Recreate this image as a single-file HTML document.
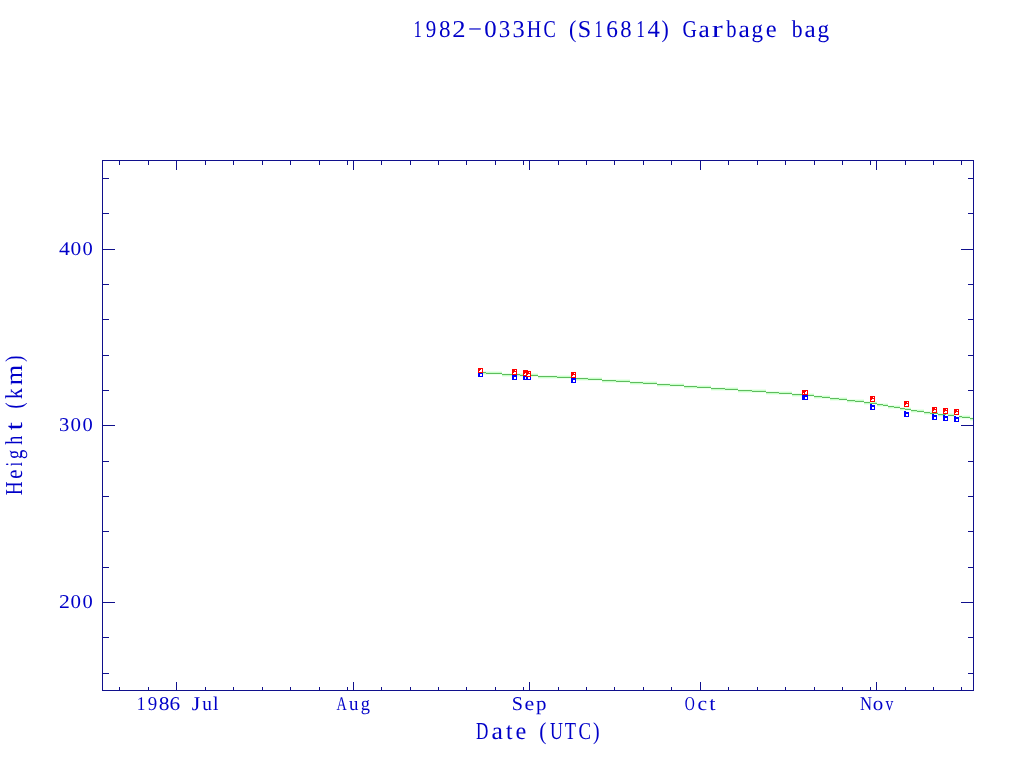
<!DOCTYPE html>
<html><head><meta charset="utf-8"><style>
html,body{margin:0;padding:0;background:#fff;width:1024px;height:768px;overflow:hidden}
svg{display:block}
svg{will-change:transform}
text{font-family:"Liberation Serif",serif;text-rendering:geometricPrecision}
</style></head><body>
<svg width="1024" height="768" viewBox="0 0 1024 768">
<rect width="1024" height="768" fill="#fff"/>
<g shape-rendering="crispEdges">
<rect x="102" y="160" width="872" height="1" fill="#10108c"/>
<rect x="102" y="690" width="872" height="1" fill="#10108c"/>
<rect x="102" y="160" width="1" height="531" fill="#10108c"/>
<rect x="973" y="160" width="1" height="531" fill="#10108c"/>
<rect x="176" y="682" width="1" height="8" fill="#10108c"/>
<rect x="176" y="161" width="1" height="9" fill="#10108c"/>
<rect x="353" y="682" width="1" height="8" fill="#10108c"/>
<rect x="353" y="161" width="1" height="9" fill="#10108c"/>
<rect x="529" y="682" width="1" height="8" fill="#10108c"/>
<rect x="529" y="161" width="1" height="9" fill="#10108c"/>
<rect x="700" y="682" width="1" height="8" fill="#10108c"/>
<rect x="700" y="161" width="1" height="9" fill="#10108c"/>
<rect x="876" y="682" width="1" height="8" fill="#10108c"/>
<rect x="876" y="161" width="1" height="9" fill="#10108c"/>
<rect x="119" y="687" width="1" height="3" fill="#10108c"/>
<rect x="119" y="161" width="1" height="4" fill="#10108c"/>
<rect x="148" y="687" width="1" height="3" fill="#10108c"/>
<rect x="148" y="161" width="1" height="4" fill="#10108c"/>
<rect x="205" y="687" width="1" height="3" fill="#10108c"/>
<rect x="205" y="161" width="1" height="4" fill="#10108c"/>
<rect x="233" y="687" width="1" height="3" fill="#10108c"/>
<rect x="233" y="161" width="1" height="4" fill="#10108c"/>
<rect x="262" y="687" width="1" height="3" fill="#10108c"/>
<rect x="262" y="161" width="1" height="4" fill="#10108c"/>
<rect x="290" y="687" width="1" height="3" fill="#10108c"/>
<rect x="290" y="161" width="1" height="4" fill="#10108c"/>
<rect x="319" y="687" width="1" height="3" fill="#10108c"/>
<rect x="319" y="161" width="1" height="4" fill="#10108c"/>
<rect x="347" y="687" width="1" height="3" fill="#10108c"/>
<rect x="347" y="161" width="1" height="4" fill="#10108c"/>
<rect x="381" y="687" width="1" height="3" fill="#10108c"/>
<rect x="381" y="161" width="1" height="4" fill="#10108c"/>
<rect x="410" y="687" width="1" height="3" fill="#10108c"/>
<rect x="410" y="161" width="1" height="4" fill="#10108c"/>
<rect x="438" y="687" width="1" height="3" fill="#10108c"/>
<rect x="438" y="161" width="1" height="4" fill="#10108c"/>
<rect x="466" y="687" width="1" height="3" fill="#10108c"/>
<rect x="466" y="161" width="1" height="4" fill="#10108c"/>
<rect x="495" y="687" width="1" height="3" fill="#10108c"/>
<rect x="495" y="161" width="1" height="4" fill="#10108c"/>
<rect x="523" y="687" width="1" height="3" fill="#10108c"/>
<rect x="523" y="161" width="1" height="4" fill="#10108c"/>
<rect x="558" y="687" width="1" height="3" fill="#10108c"/>
<rect x="558" y="161" width="1" height="4" fill="#10108c"/>
<rect x="586" y="687" width="1" height="3" fill="#10108c"/>
<rect x="586" y="161" width="1" height="4" fill="#10108c"/>
<rect x="614" y="687" width="1" height="3" fill="#10108c"/>
<rect x="614" y="161" width="1" height="4" fill="#10108c"/>
<rect x="643" y="687" width="1" height="3" fill="#10108c"/>
<rect x="643" y="161" width="1" height="4" fill="#10108c"/>
<rect x="671" y="687" width="1" height="3" fill="#10108c"/>
<rect x="671" y="161" width="1" height="4" fill="#10108c"/>
<rect x="728" y="687" width="1" height="3" fill="#10108c"/>
<rect x="728" y="161" width="1" height="4" fill="#10108c"/>
<rect x="757" y="687" width="1" height="3" fill="#10108c"/>
<rect x="757" y="161" width="1" height="4" fill="#10108c"/>
<rect x="785" y="687" width="1" height="3" fill="#10108c"/>
<rect x="785" y="161" width="1" height="4" fill="#10108c"/>
<rect x="814" y="687" width="1" height="3" fill="#10108c"/>
<rect x="814" y="161" width="1" height="4" fill="#10108c"/>
<rect x="842" y="687" width="1" height="3" fill="#10108c"/>
<rect x="842" y="161" width="1" height="4" fill="#10108c"/>
<rect x="870" y="687" width="1" height="3" fill="#10108c"/>
<rect x="870" y="161" width="1" height="4" fill="#10108c"/>
<rect x="905" y="687" width="1" height="3" fill="#10108c"/>
<rect x="905" y="161" width="1" height="4" fill="#10108c"/>
<rect x="933" y="687" width="1" height="3" fill="#10108c"/>
<rect x="933" y="161" width="1" height="4" fill="#10108c"/>
<rect x="961" y="687" width="1" height="3" fill="#10108c"/>
<rect x="961" y="161" width="1" height="4" fill="#10108c"/>
<rect x="103" y="673" width="6" height="1" fill="#10108c"/>
<rect x="968" y="673" width="5" height="1" fill="#10108c"/>
<rect x="103" y="637" width="6" height="1" fill="#10108c"/>
<rect x="968" y="637" width="5" height="1" fill="#10108c"/>
<rect x="103" y="602" width="12" height="1" fill="#10108c"/>
<rect x="961" y="602" width="12" height="1" fill="#10108c"/>
<rect x="103" y="567" width="6" height="1" fill="#10108c"/>
<rect x="968" y="567" width="5" height="1" fill="#10108c"/>
<rect x="103" y="531" width="6" height="1" fill="#10108c"/>
<rect x="968" y="531" width="5" height="1" fill="#10108c"/>
<rect x="103" y="496" width="6" height="1" fill="#10108c"/>
<rect x="968" y="496" width="5" height="1" fill="#10108c"/>
<rect x="103" y="461" width="6" height="1" fill="#10108c"/>
<rect x="968" y="461" width="5" height="1" fill="#10108c"/>
<rect x="103" y="425" width="12" height="1" fill="#10108c"/>
<rect x="961" y="425" width="12" height="1" fill="#10108c"/>
<rect x="103" y="390" width="6" height="1" fill="#10108c"/>
<rect x="968" y="390" width="5" height="1" fill="#10108c"/>
<rect x="103" y="355" width="6" height="1" fill="#10108c"/>
<rect x="968" y="355" width="5" height="1" fill="#10108c"/>
<rect x="103" y="319" width="6" height="1" fill="#10108c"/>
<rect x="968" y="319" width="5" height="1" fill="#10108c"/>
<rect x="103" y="284" width="6" height="1" fill="#10108c"/>
<rect x="968" y="284" width="5" height="1" fill="#10108c"/>
<rect x="103" y="249" width="12" height="1" fill="#10108c"/>
<rect x="961" y="249" width="12" height="1" fill="#10108c"/>
<rect x="103" y="213" width="6" height="1" fill="#10108c"/>
<rect x="968" y="213" width="5" height="1" fill="#10108c"/>
<rect x="103" y="178" width="6" height="1" fill="#10108c"/>
<rect x="968" y="178" width="5" height="1" fill="#10108c"/>
<text transform="translate(417.80 37) scale(0.693 1)" x="-6.39" fill="#0000c8" font-size="24.2">1</text>
<text transform="translate(431.00 37) scale(0.871 1)" x="-5.94" fill="#0000c8" font-size="24.2">9</text>
<text transform="translate(444.75 37) scale(0.955 1)" x="-6.05" fill="#0000c8" font-size="24.2">8</text>
<text transform="translate(458.80 37) scale(1.103 1)" x="-5.91" fill="#0000c8" font-size="24.2">2</text>
<text transform="translate(474.90 37) scale(1.021 1)" x="-6.84" fill="#0000c8" font-size="24.2">−</text>
<text transform="translate(490.50 37) scale(1.024 1)" x="-6.05" fill="#0000c8" font-size="24.2">0</text>
<text transform="translate(504.70 37) scale(0.950 1)" x="-6.16" fill="#0000c8" font-size="24.2">3</text>
<text transform="translate(518.60 37) scale(1.010 1)" x="-6.16" fill="#0000c8" font-size="24.2">3</text>
<text transform="translate(534.00 37) scale(0.834 1)" x="-8.73" fill="#0000c8" font-size="24.2">H</text>
<text transform="translate(549.60 37) scale(0.760 1)" x="-7.90" fill="#0000c8" font-size="24.2">C</text>
<text transform="translate(572.80 37) scale(0.917 1)" x="-4.17" fill="#0000c8" font-size="24.2">(</text>
<text transform="translate(584.40 37) scale(0.996 1)" x="-6.79" fill="#0000c8" font-size="24.2">S</text>
<text transform="translate(598.90 37) scale(0.681 1)" x="-6.39" fill="#0000c8" font-size="24.2">1</text>
<text transform="translate(612.20 37) scale(0.967 1)" x="-6.21" fill="#0000c8" font-size="24.2">6</text>
<text transform="translate(626.00 37) scale(0.936 1)" x="-6.05" fill="#0000c8" font-size="24.2">8</text>
<text transform="translate(641.00 37) scale(0.728 1)" x="-6.39" fill="#0000c8" font-size="24.2">1</text>
<text transform="translate(653.80 37) scale(1.022 1)" x="-6.10" fill="#0000c8" font-size="24.2">4</text>
<text transform="translate(665.00 37) scale(0.901 1)" x="-3.89" fill="#0000c8" font-size="24.2">)</text>
<text transform="translate(689.70 37) scale(0.820 1)" x="-8.86" fill="#0000c8" font-size="24.2">G</text>
<text transform="translate(704.40 37) scale(1.046 1)" x="-5.63" fill="#0000c8" font-size="24.2">a</text>
<text transform="translate(717.50 37) scale(1.372 1)" x="-4.17" fill="#0000c8" font-size="24.2">r</text>
<text transform="translate(731.00 37) scale(0.850 1)" x="-5.59" fill="#0000c8" font-size="24.2">b</text>
<text transform="translate(744.40 37) scale(1.057 1)" x="-5.63" fill="#0000c8" font-size="24.2">a</text>
<text transform="translate(757.60 37) scale(0.953 1)" x="-6.34" fill="#0000c8" font-size="24.2">g</text>
<text transform="translate(771.30 37) scale(1.016 1)" x="-5.42" fill="#0000c8" font-size="24.2">e</text>
<text transform="translate(796.70 37) scale(0.895 1)" x="-5.59" fill="#0000c8" font-size="24.2">b</text>
<text transform="translate(810.30 37) scale(1.046 1)" x="-5.63" fill="#0000c8" font-size="24.2">a</text>
<text transform="translate(823.65 37) scale(0.962 1)" x="-6.34" fill="#0000c8" font-size="24.2">g</text>
<text transform="translate(141.20 710) scale(0.889 1)" x="-5.15" fill="#0000c8" font-size="19.5">1</text>
<text transform="translate(152.50 710) scale(0.973 1)" x="-4.79" fill="#0000c8" font-size="19.5">9</text>
<text transform="translate(164.20 710) scale(1.101 1)" x="-4.88" fill="#0000c8" font-size="19.5">8</text>
<text transform="translate(174.90 710) scale(1.092 1)" x="-5.00" fill="#0000c8" font-size="19.5">6</text>
<text transform="translate(196.10 710) scale(1.123 1)" x="-3.79" fill="#0000c8" font-size="19.5">J</text>
<text transform="translate(207.10 710) scale(0.993 1)" x="-4.84" fill="#0000c8" font-size="19.5">u</text>
<text transform="translate(215.70 710) scale(1.014 1)" x="-2.71" fill="#0000c8" font-size="19.5">l</text>
<text transform="translate(341.50 710) scale(0.727 1)" x="-7.06" fill="#0000c8" font-size="19.5">A</text>
<text transform="translate(353.80 710) scale(0.972 1)" x="-4.84" fill="#0000c8" font-size="19.5">u</text>
<text transform="translate(365.60 710) scale(0.943 1)" x="-5.11" fill="#0000c8" font-size="19.5">g</text>
<text transform="translate(517.50 710) scale(1.032 1)" x="-5.47" fill="#0000c8" font-size="19.5">S</text>
<text transform="translate(529.40 710) scale(1.122 1)" x="-4.37" fill="#0000c8" font-size="19.5">e</text>
<text transform="translate(541.00 710) scale(1.072 1)" x="-4.65" fill="#0000c8" font-size="19.5">p</text>
<text transform="translate(689.80 710) scale(0.713 1)" x="-7.04" fill="#0000c8" font-size="19.5">O</text>
<text transform="translate(702.40 710) scale(1.108 1)" x="-4.40" fill="#0000c8" font-size="19.5">c</text>
<text transform="translate(712.50 710) scale(1.154 1)" x="-2.75" fill="#0000c8" font-size="19.5">t</text>
<text transform="translate(866.00 710) scale(0.857 1)" x="-7.10" fill="#0000c8" font-size="19.5">N</text>
<text transform="translate(878.00 710) scale(1.077 1)" x="-4.88" fill="#0000c8" font-size="19.5">o</text>
<text transform="translate(889.50 710) scale(0.800 1)" x="-4.88" fill="#0000c8" font-size="19.5">v</text>
<text transform="translate(64.40 255) scale(1.114 1)" x="-4.91" fill="#0000c8" font-size="19.5">4</text>
<text transform="translate(75.90 255) scale(1.101 1)" x="-4.88" fill="#0000c8" font-size="19.5">0</text>
<text transform="translate(87.60 255) scale(1.053 1)" x="-4.88" fill="#0000c8" font-size="19.5">0</text>
<text transform="translate(64.30 431) scale(1.055 1)" x="-4.96" fill="#0000c8" font-size="19.5">3</text>
<text transform="translate(75.80 431) scale(1.077 1)" x="-4.88" fill="#0000c8" font-size="19.5">0</text>
<text transform="translate(87.60 431) scale(1.053 1)" x="-4.88" fill="#0000c8" font-size="19.5">0</text>
<text transform="translate(64.40 608) scale(1.113 1)" x="-4.77" fill="#0000c8" font-size="19.5">2</text>
<text transform="translate(75.80 608) scale(1.077 1)" x="-4.88" fill="#0000c8" font-size="19.5">0</text>
<text transform="translate(87.60 608) scale(1.053 1)" x="-4.88" fill="#0000c8" font-size="19.5">0</text>
<text transform="translate(482.10 739) scale(0.705 1)" x="-8.64" fill="#0000c8" font-size="24.3">D</text>
<text transform="translate(497.40 739) scale(1.063 1)" x="-5.65" fill="#0000c8" font-size="24.3">a</text>
<text transform="translate(509.40 739) scale(0.973 1)" x="-3.42" fill="#0000c8" font-size="24.3">t</text>
<text transform="translate(521.00 739) scale(1.001 1)" x="-5.45" fill="#0000c8" font-size="24.3">e</text>
<text transform="translate(542.90 739) scale(0.881 1)" x="-4.19" fill="#0000c8" font-size="24.3">(</text>
<text transform="translate(556.40 739) scale(0.738 1)" x="-8.77" fill="#0000c8" font-size="24.3">U</text>
<text transform="translate(570.50 739) scale(0.757 1)" x="-7.44" fill="#0000c8" font-size="24.3">T</text>
<text transform="translate(584.50 739) scale(0.771 1)" x="-7.93" fill="#0000c8" font-size="24.3">C</text>
<text transform="translate(596.20 739) scale(0.817 1)" x="-3.90" fill="#0000c8" font-size="24.3">)</text>
<text transform="translate(22 488.20) rotate(-90) scale(0.793 1)" x="-8.77" fill="#0000c8" font-size="24.3">H</text>
<text transform="translate(22 474.20) rotate(-90) scale(0.845 1)" x="-5.45" fill="#0000c8" font-size="24.3">e</text>
<text transform="translate(22 464.30) rotate(-90) scale(0.606 1)" x="-3.40" fill="#0000c8" font-size="24.3">i</text>
<text transform="translate(22 454.10) rotate(-90) scale(0.761 1)" x="-6.37" fill="#0000c8" font-size="24.3">g</text>
<text transform="translate(22 440.30) rotate(-90) scale(0.750 1)" x="-6.03" fill="#0000c8" font-size="24.3">h</text>
<text transform="translate(22 426.20) rotate(-90) scale(1.208 1)" x="-3.42" fill="#0000c8" font-size="24.3">t</text>
<text transform="translate(22 405.30) rotate(-90) scale(0.769 1)" x="-4.19" fill="#0000c8" font-size="24.3">(</text>
<text transform="translate(22 393.40) rotate(-90) scale(0.881 1)" x="-6.31" fill="#0000c8" font-size="24.3">k</text>
<text transform="translate(22 375.00) rotate(-90) scale(1.083 1)" x="-9.52" fill="#0000c8" font-size="24.3">m</text>
<text transform="translate(22 358.90) rotate(-90) scale(0.801 1)" x="-3.90" fill="#0000c8" font-size="24.3">)</text>
<rect x="480" y="371" width="6" height="1" fill="#ecffec"/>
<rect x="480" y="374" width="6" height="1" fill="#ecffec"/>
<rect x="486" y="371" width="16" height="1" fill="#ecffec"/>
<rect x="486" y="374" width="16" height="1" fill="#ecffec"/>
<rect x="502" y="373" width="18" height="1" fill="#ecffec"/>
<rect x="502" y="376" width="18" height="1" fill="#ecffec"/>
<rect x="520" y="373" width="18" height="1" fill="#ecffec"/>
<rect x="520" y="376" width="18" height="1" fill="#ecffec"/>
<rect x="538" y="375" width="19" height="1" fill="#ecffec"/>
<rect x="538" y="378" width="19" height="1" fill="#ecffec"/>
<rect x="557" y="375" width="16" height="1" fill="#ecffec"/>
<rect x="557" y="378" width="16" height="1" fill="#ecffec"/>
<rect x="573" y="377" width="15" height="1" fill="#ecffec"/>
<rect x="573" y="380" width="15" height="1" fill="#ecffec"/>
<rect x="588" y="377" width="14" height="1" fill="#ecffec"/>
<rect x="588" y="380" width="14" height="1" fill="#ecffec"/>
<rect x="602" y="379" width="14" height="1" fill="#ecffec"/>
<rect x="602" y="382" width="14" height="1" fill="#ecffec"/>
<rect x="616" y="379" width="14" height="1" fill="#ecffec"/>
<rect x="616" y="382" width="14" height="1" fill="#ecffec"/>
<rect x="630" y="381" width="13" height="1" fill="#ecffec"/>
<rect x="630" y="384" width="13" height="1" fill="#ecffec"/>
<rect x="643" y="381" width="14" height="1" fill="#ecffec"/>
<rect x="643" y="384" width="14" height="1" fill="#ecffec"/>
<rect x="657" y="383" width="13" height="1" fill="#ecffec"/>
<rect x="657" y="386" width="13" height="1" fill="#ecffec"/>
<rect x="670" y="383" width="14" height="1" fill="#ecffec"/>
<rect x="670" y="386" width="14" height="1" fill="#ecffec"/>
<rect x="684" y="385" width="13" height="1" fill="#ecffec"/>
<rect x="684" y="388" width="13" height="1" fill="#ecffec"/>
<rect x="697" y="385" width="14" height="1" fill="#ecffec"/>
<rect x="697" y="388" width="14" height="1" fill="#ecffec"/>
<rect x="711" y="387" width="14" height="1" fill="#ecffec"/>
<rect x="711" y="390" width="14" height="1" fill="#ecffec"/>
<rect x="725" y="387" width="13" height="1" fill="#ecffec"/>
<rect x="725" y="390" width="13" height="1" fill="#ecffec"/>
<rect x="738" y="389" width="14" height="1" fill="#ecffec"/>
<rect x="738" y="392" width="14" height="1" fill="#ecffec"/>
<rect x="752" y="389" width="14" height="1" fill="#ecffec"/>
<rect x="752" y="392" width="14" height="1" fill="#ecffec"/>
<rect x="766" y="391" width="13" height="1" fill="#ecffec"/>
<rect x="766" y="394" width="13" height="1" fill="#ecffec"/>
<rect x="779" y="391" width="13" height="1" fill="#ecffec"/>
<rect x="779" y="394" width="13" height="1" fill="#ecffec"/>
<rect x="792" y="393" width="11" height="1" fill="#ecffec"/>
<rect x="792" y="396" width="11" height="1" fill="#ecffec"/>
<rect x="803" y="393" width="11" height="1" fill="#ecffec"/>
<rect x="803" y="396" width="11" height="1" fill="#ecffec"/>
<rect x="814" y="395" width="8" height="1" fill="#ecffec"/>
<rect x="814" y="398" width="8" height="1" fill="#ecffec"/>
<rect x="822" y="395" width="8" height="1" fill="#ecffec"/>
<rect x="822" y="398" width="8" height="1" fill="#ecffec"/>
<rect x="830" y="397" width="9" height="1" fill="#ecffec"/>
<rect x="830" y="400" width="9" height="1" fill="#ecffec"/>
<rect x="839" y="397" width="8" height="1" fill="#ecffec"/>
<rect x="839" y="400" width="8" height="1" fill="#ecffec"/>
<rect x="847" y="399" width="8" height="1" fill="#ecffec"/>
<rect x="847" y="402" width="8" height="1" fill="#ecffec"/>
<rect x="855" y="399" width="9" height="1" fill="#ecffec"/>
<rect x="855" y="402" width="9" height="1" fill="#ecffec"/>
<rect x="864" y="401" width="6" height="1" fill="#ecffec"/>
<rect x="864" y="404" width="6" height="1" fill="#ecffec"/>
<rect x="870" y="401" width="7" height="1" fill="#ecffec"/>
<rect x="870" y="404" width="7" height="1" fill="#ecffec"/>
<rect x="877" y="403" width="6" height="1" fill="#ecffec"/>
<rect x="877" y="406" width="6" height="1" fill="#ecffec"/>
<rect x="883" y="403" width="5" height="1" fill="#ecffec"/>
<rect x="883" y="406" width="5" height="1" fill="#ecffec"/>
<rect x="888" y="405" width="6" height="1" fill="#ecffec"/>
<rect x="888" y="408" width="6" height="1" fill="#ecffec"/>
<rect x="894" y="405" width="6" height="1" fill="#ecffec"/>
<rect x="894" y="408" width="6" height="1" fill="#ecffec"/>
<rect x="900" y="407" width="5" height="1" fill="#ecffec"/>
<rect x="900" y="410" width="5" height="1" fill="#ecffec"/>
<rect x="905" y="407" width="6" height="1" fill="#ecffec"/>
<rect x="905" y="410" width="6" height="1" fill="#ecffec"/>
<rect x="911" y="409" width="6" height="1" fill="#ecffec"/>
<rect x="911" y="412" width="6" height="1" fill="#ecffec"/>
<rect x="917" y="409" width="7" height="1" fill="#ecffec"/>
<rect x="917" y="412" width="7" height="1" fill="#ecffec"/>
<rect x="924" y="411" width="6" height="1" fill="#ecffec"/>
<rect x="924" y="414" width="6" height="1" fill="#ecffec"/>
<rect x="930" y="411" width="8" height="1" fill="#ecffec"/>
<rect x="930" y="414" width="8" height="1" fill="#ecffec"/>
<rect x="938" y="413" width="8" height="1" fill="#ecffec"/>
<rect x="938" y="416" width="8" height="1" fill="#ecffec"/>
<rect x="946" y="413" width="8" height="1" fill="#ecffec"/>
<rect x="946" y="416" width="8" height="1" fill="#ecffec"/>
<rect x="954" y="415" width="8" height="1" fill="#ecffec"/>
<rect x="954" y="418" width="8" height="1" fill="#ecffec"/>
<rect x="962" y="415" width="8" height="1" fill="#ecffec"/>
<rect x="962" y="418" width="8" height="1" fill="#ecffec"/>
<rect x="970" y="417" width="3" height="1" fill="#ecffec"/>
<rect x="970" y="420" width="3" height="1" fill="#ecffec"/>
<rect x="480" y="373" width="6" height="1" fill="#c7ffc7"/>
<rect x="486" y="372" width="16" height="1" fill="#c7ffc7"/>
<rect x="502" y="375" width="18" height="1" fill="#c7ffc7"/>
<rect x="520" y="374" width="18" height="1" fill="#c7ffc7"/>
<rect x="538" y="377" width="19" height="1" fill="#c7ffc7"/>
<rect x="557" y="376" width="16" height="1" fill="#c7ffc7"/>
<rect x="573" y="379" width="15" height="1" fill="#c7ffc7"/>
<rect x="588" y="378" width="14" height="1" fill="#c7ffc7"/>
<rect x="602" y="381" width="14" height="1" fill="#c7ffc7"/>
<rect x="616" y="380" width="14" height="1" fill="#c7ffc7"/>
<rect x="630" y="383" width="13" height="1" fill="#c7ffc7"/>
<rect x="643" y="382" width="14" height="1" fill="#c7ffc7"/>
<rect x="657" y="385" width="13" height="1" fill="#c7ffc7"/>
<rect x="670" y="384" width="14" height="1" fill="#c7ffc7"/>
<rect x="684" y="387" width="13" height="1" fill="#c7ffc7"/>
<rect x="697" y="386" width="14" height="1" fill="#c7ffc7"/>
<rect x="711" y="389" width="14" height="1" fill="#c7ffc7"/>
<rect x="725" y="388" width="13" height="1" fill="#c7ffc7"/>
<rect x="738" y="391" width="14" height="1" fill="#c7ffc7"/>
<rect x="752" y="390" width="14" height="1" fill="#c7ffc7"/>
<rect x="766" y="393" width="13" height="1" fill="#c7ffc7"/>
<rect x="779" y="392" width="13" height="1" fill="#c7ffc7"/>
<rect x="792" y="395" width="11" height="1" fill="#c7ffc7"/>
<rect x="803" y="394" width="11" height="1" fill="#c7ffc7"/>
<rect x="814" y="397" width="8" height="1" fill="#c7ffc7"/>
<rect x="822" y="396" width="8" height="1" fill="#c7ffc7"/>
<rect x="830" y="399" width="9" height="1" fill="#c7ffc7"/>
<rect x="839" y="398" width="8" height="1" fill="#c7ffc7"/>
<rect x="847" y="401" width="8" height="1" fill="#c7ffc7"/>
<rect x="855" y="400" width="9" height="1" fill="#c7ffc7"/>
<rect x="864" y="403" width="6" height="1" fill="#c7ffc7"/>
<rect x="870" y="402" width="7" height="1" fill="#c7ffc7"/>
<rect x="877" y="405" width="6" height="1" fill="#c7ffc7"/>
<rect x="883" y="404" width="5" height="1" fill="#c7ffc7"/>
<rect x="888" y="407" width="6" height="1" fill="#c7ffc7"/>
<rect x="894" y="406" width="6" height="1" fill="#c7ffc7"/>
<rect x="900" y="409" width="5" height="1" fill="#c7ffc7"/>
<rect x="905" y="408" width="6" height="1" fill="#c7ffc7"/>
<rect x="911" y="411" width="6" height="1" fill="#c7ffc7"/>
<rect x="917" y="410" width="7" height="1" fill="#c7ffc7"/>
<rect x="924" y="413" width="6" height="1" fill="#c7ffc7"/>
<rect x="930" y="412" width="8" height="1" fill="#c7ffc7"/>
<rect x="938" y="415" width="8" height="1" fill="#c7ffc7"/>
<rect x="946" y="414" width="8" height="1" fill="#c7ffc7"/>
<rect x="954" y="417" width="8" height="1" fill="#c7ffc7"/>
<rect x="962" y="416" width="8" height="1" fill="#c7ffc7"/>
<rect x="970" y="419" width="3" height="1" fill="#c7ffc7"/>
<rect x="480" y="372" width="6" height="1" fill="#5ebd5e"/>
<rect x="486" y="373" width="16" height="1" fill="#5ebd5e"/>
<rect x="502" y="374" width="18" height="1" fill="#5ebd5e"/>
<rect x="520" y="375" width="18" height="1" fill="#5ebd5e"/>
<rect x="538" y="376" width="19" height="1" fill="#5ebd5e"/>
<rect x="557" y="377" width="16" height="1" fill="#5ebd5e"/>
<rect x="573" y="378" width="15" height="1" fill="#5ebd5e"/>
<rect x="588" y="379" width="14" height="1" fill="#5ebd5e"/>
<rect x="602" y="380" width="14" height="1" fill="#5ebd5e"/>
<rect x="616" y="381" width="14" height="1" fill="#5ebd5e"/>
<rect x="630" y="382" width="13" height="1" fill="#5ebd5e"/>
<rect x="643" y="383" width="14" height="1" fill="#5ebd5e"/>
<rect x="657" y="384" width="13" height="1" fill="#5ebd5e"/>
<rect x="670" y="385" width="14" height="1" fill="#5ebd5e"/>
<rect x="684" y="386" width="13" height="1" fill="#5ebd5e"/>
<rect x="697" y="387" width="14" height="1" fill="#5ebd5e"/>
<rect x="711" y="388" width="14" height="1" fill="#5ebd5e"/>
<rect x="725" y="389" width="13" height="1" fill="#5ebd5e"/>
<rect x="738" y="390" width="14" height="1" fill="#5ebd5e"/>
<rect x="752" y="391" width="14" height="1" fill="#5ebd5e"/>
<rect x="766" y="392" width="13" height="1" fill="#5ebd5e"/>
<rect x="779" y="393" width="13" height="1" fill="#5ebd5e"/>
<rect x="792" y="394" width="11" height="1" fill="#5ebd5e"/>
<rect x="803" y="395" width="11" height="1" fill="#5ebd5e"/>
<rect x="814" y="396" width="8" height="1" fill="#5ebd5e"/>
<rect x="822" y="397" width="8" height="1" fill="#5ebd5e"/>
<rect x="830" y="398" width="9" height="1" fill="#5ebd5e"/>
<rect x="839" y="399" width="8" height="1" fill="#5ebd5e"/>
<rect x="847" y="400" width="8" height="1" fill="#5ebd5e"/>
<rect x="855" y="401" width="9" height="1" fill="#5ebd5e"/>
<rect x="864" y="402" width="6" height="1" fill="#5ebd5e"/>
<rect x="870" y="403" width="7" height="1" fill="#5ebd5e"/>
<rect x="877" y="404" width="6" height="1" fill="#5ebd5e"/>
<rect x="883" y="405" width="5" height="1" fill="#5ebd5e"/>
<rect x="888" y="406" width="6" height="1" fill="#5ebd5e"/>
<rect x="894" y="407" width="6" height="1" fill="#5ebd5e"/>
<rect x="900" y="408" width="5" height="1" fill="#5ebd5e"/>
<rect x="905" y="409" width="6" height="1" fill="#5ebd5e"/>
<rect x="911" y="410" width="6" height="1" fill="#5ebd5e"/>
<rect x="917" y="411" width="7" height="1" fill="#5ebd5e"/>
<rect x="924" y="412" width="6" height="1" fill="#5ebd5e"/>
<rect x="930" y="413" width="8" height="1" fill="#5ebd5e"/>
<rect x="938" y="414" width="8" height="1" fill="#5ebd5e"/>
<rect x="946" y="415" width="8" height="1" fill="#5ebd5e"/>
<rect x="954" y="416" width="8" height="1" fill="#5ebd5e"/>
<rect x="962" y="417" width="8" height="1" fill="#5ebd5e"/>
<rect x="970" y="418" width="3" height="1" fill="#5ebd5e"/>
<rect x="478" y="371" width="5" height="6" fill="#0000ff"/>
<rect x="480" y="371" width="3" height="1" fill="#fff"/>
<rect x="480" y="374" width="2" height="2" fill="#fff"/>
<rect x="512" y="374" width="5" height="6" fill="#0000ff"/>
<rect x="514" y="374" width="3" height="1" fill="#fff"/>
<rect x="514" y="377" width="2" height="2" fill="#fff"/>
<rect x="523" y="374" width="5" height="6" fill="#0000ff"/>
<rect x="525" y="374" width="3" height="1" fill="#fff"/>
<rect x="525" y="377" width="2" height="2" fill="#fff"/>
<rect x="526" y="374" width="5" height="6" fill="#0000ff"/>
<rect x="528" y="374" width="3" height="1" fill="#fff"/>
<rect x="528" y="377" width="2" height="2" fill="#fff"/>
<rect x="571" y="377" width="5" height="6" fill="#0000ff"/>
<rect x="573" y="377" width="3" height="1" fill="#fff"/>
<rect x="573" y="380" width="2" height="2" fill="#fff"/>
<rect x="802" y="394" width="6" height="6" fill="#0000ff"/>
<rect x="804" y="394" width="4" height="1" fill="#fff"/>
<rect x="805" y="397" width="2" height="2" fill="#fff"/>
<rect x="870" y="404" width="5" height="6" fill="#0000ff"/>
<rect x="872" y="404" width="3" height="1" fill="#fff"/>
<rect x="872" y="407" width="2" height="2" fill="#fff"/>
<rect x="904" y="411" width="5" height="6" fill="#0000ff"/>
<rect x="906" y="411" width="3" height="1" fill="#fff"/>
<rect x="906" y="414" width="2" height="2" fill="#fff"/>
<rect x="932" y="414" width="5" height="6" fill="#0000ff"/>
<rect x="934" y="414" width="3" height="1" fill="#fff"/>
<rect x="934" y="417" width="2" height="2" fill="#fff"/>
<rect x="943" y="415" width="5" height="6" fill="#0000ff"/>
<rect x="945" y="415" width="3" height="1" fill="#fff"/>
<rect x="945" y="418" width="2" height="2" fill="#fff"/>
<rect x="954" y="416" width="5" height="6" fill="#0000ff"/>
<rect x="956" y="416" width="3" height="1" fill="#fff"/>
<rect x="956" y="419" width="2" height="2" fill="#fff"/>
<rect x="478" y="368" width="5" height="5" fill="#ff0000"/>
<rect x="481" y="369" width="1" height="1" fill="#fff"/>
<rect x="480" y="370" width="2" height="2" fill="#fff"/>
<rect x="479" y="371" width="1" height="1" fill="#fff"/>
<rect x="512" y="369" width="5" height="6" fill="#ff0000"/>
<rect x="515" y="370" width="1" height="1" fill="#fff"/>
<rect x="514" y="372" width="2" height="2" fill="#fff"/>
<rect x="513" y="373" width="1" height="1" fill="#fff"/>
<rect x="523" y="370" width="5" height="6" fill="#ff0000"/>
<rect x="526" y="371" width="1" height="1" fill="#fff"/>
<rect x="525" y="373" width="2" height="2" fill="#fff"/>
<rect x="524" y="374" width="1" height="1" fill="#fff"/>
<rect x="526" y="371" width="5" height="6" fill="#ff0000"/>
<rect x="529" y="372" width="1" height="1" fill="#fff"/>
<rect x="528" y="374" width="2" height="2" fill="#fff"/>
<rect x="527" y="375" width="1" height="1" fill="#fff"/>
<rect x="571" y="372" width="5" height="6" fill="#ff0000"/>
<rect x="574" y="373" width="1" height="1" fill="#fff"/>
<rect x="573" y="375" width="2" height="2" fill="#fff"/>
<rect x="572" y="376" width="1" height="1" fill="#fff"/>
<rect x="802" y="390" width="6" height="5" fill="#ff0000"/>
<rect x="806" y="391" width="1" height="1" fill="#fff"/>
<rect x="805" y="392" width="2" height="2" fill="#fff"/>
<rect x="803" y="393" width="1" height="1" fill="#fff"/>
<rect x="870" y="396" width="5" height="6" fill="#ff0000"/>
<rect x="873" y="397" width="1" height="1" fill="#fff"/>
<rect x="872" y="399" width="2" height="2" fill="#fff"/>
<rect x="871" y="400" width="1" height="1" fill="#fff"/>
<rect x="904" y="401" width="5" height="6" fill="#ff0000"/>
<rect x="907" y="402" width="1" height="1" fill="#fff"/>
<rect x="906" y="404" width="2" height="2" fill="#fff"/>
<rect x="905" y="405" width="1" height="1" fill="#fff"/>
<rect x="932" y="407" width="5" height="6" fill="#ff0000"/>
<rect x="935" y="408" width="1" height="1" fill="#fff"/>
<rect x="934" y="410" width="2" height="2" fill="#fff"/>
<rect x="933" y="411" width="1" height="1" fill="#fff"/>
<rect x="943" y="408" width="5" height="6" fill="#ff0000"/>
<rect x="946" y="409" width="1" height="1" fill="#fff"/>
<rect x="945" y="411" width="2" height="2" fill="#fff"/>
<rect x="944" y="412" width="1" height="1" fill="#fff"/>
<rect x="954" y="409" width="5" height="6" fill="#ff0000"/>
<rect x="957" y="410" width="1" height="1" fill="#fff"/>
<rect x="956" y="412" width="2" height="2" fill="#fff"/>
<rect x="955" y="413" width="1" height="1" fill="#fff"/>
</g>
</svg>
</body></html>
